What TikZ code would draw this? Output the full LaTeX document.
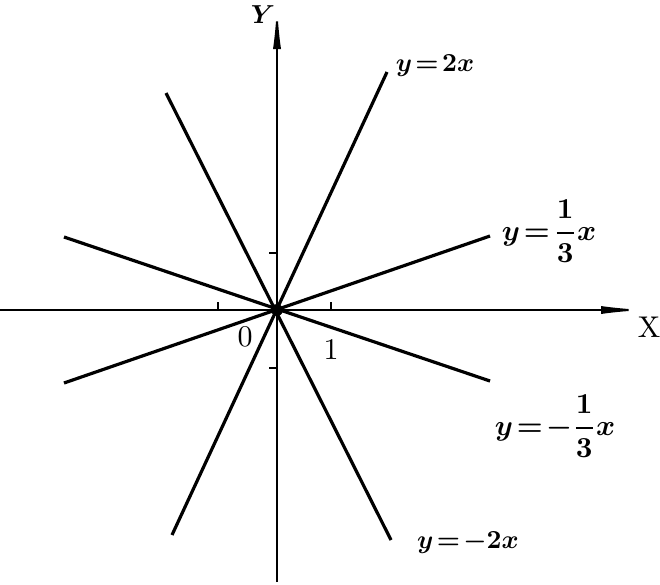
\documentclass[tikz,border=0pt]{standalone}
\usetikzlibrary{arrows.meta}
\begin{document}
\begin{tikzpicture}[x=1pt,y=-1pt,
  axis/.style={line width=2pt,-{Latex[length=44pt,width=8pt]}},
  graph/.style={line width=3.2pt},
  tick/.style={line width=1.4pt},
  lbl/.style={font=\boldmath, scale=2.6, inner sep=0pt},
  flbl/.style={font=\boldmath, scale=2.9, inner sep=0pt},
  num/.style={scale=3.0, inner sep=0pt}]
\useasboundingbox (0,0) rectangle (660,584);
\coordinate (O) at (277,310);
\coordinate (xs) at (0,310);
\coordinate (xe) at (645,310);
\coordinate (ys) at (277,582);
\coordinate (ye) at (277,5);
\draw[axis] (xs) -- (xe);
\draw[axis] (ys) -- (ye);
% ticks
\draw[tick] (218,310) -- (218,302);
\draw[tick] (331,310) -- (331,302);
\draw[tick] (277,253) -- (269,253);
\draw[tick] (277,368) -- (269,368);
% lines
\coordinate (a1) at (172,535); \coordinate (a2) at (387,72);
\coordinate (b1) at (166,93); \coordinate (b2) at (391,540);
\coordinate (c1) at (64,383); \coordinate (c2) at (490,236);
\coordinate (d1) at (64,237); \coordinate (d2) at (490,381);
\draw[graph] (a1) -- (a2);
\draw[graph] (b1) -- (b2);
\draw[graph] (c1) -- (c2);
\draw[graph] (d1) -- (d2);
\fill (O) circle (6pt);
% labels
\node[lbl] (l1) at (435,66) {$y\!=\!2x$};
\node[flbl] (l2) at (549,231) {$y\!=\!\displaystyle\frac{1}{3}x$};
\node[flbl] (l3) at (555,426) {$y\!=\!-\displaystyle\frac{1}{3}x$};
\node[lbl] (l4) at (468,543) {$y\!=\!-2x$};
\node[lbl] (ly) at (263,15) {$Y$};
\node[num] (lx) at (649,327) {X};
\node[num] (lo) at (245,337) {0};
\node[num] (l1n) at (331,350) {1};
\end{tikzpicture}
\end{document}
